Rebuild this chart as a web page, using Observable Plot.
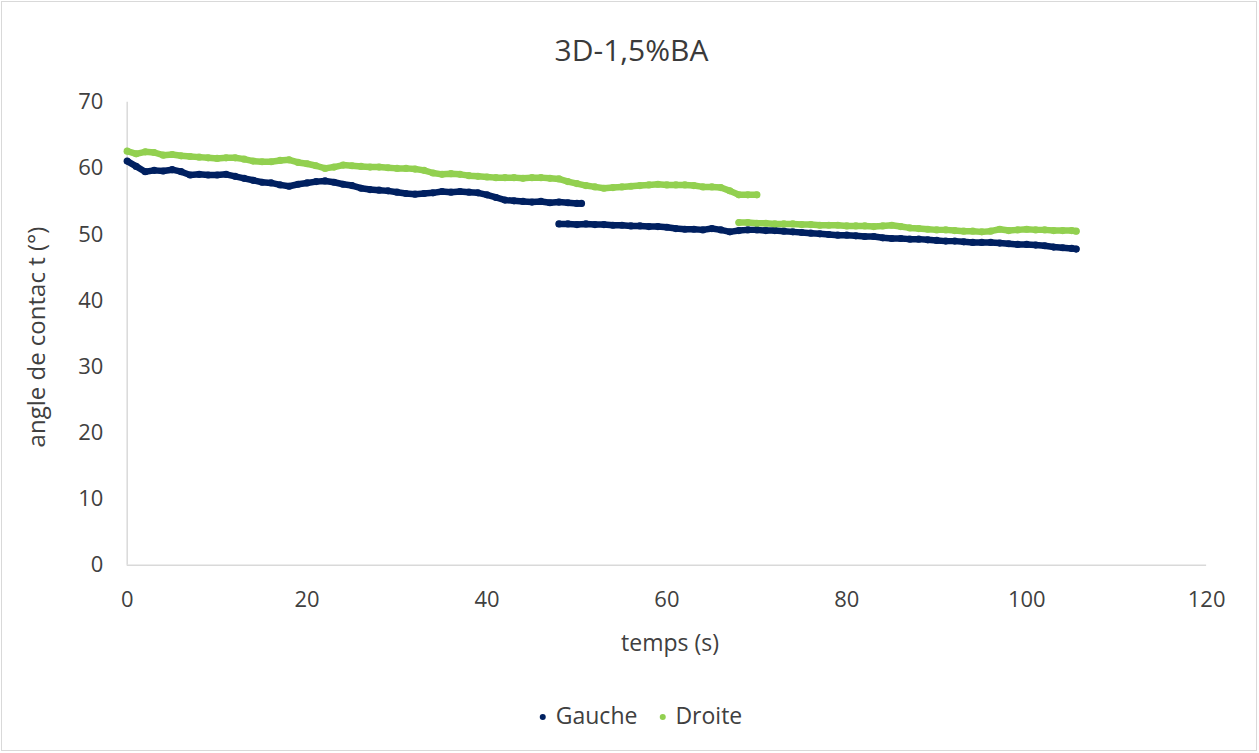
<!DOCTYPE html>
<html>
<head>
<meta charset="utf-8">
<script src="https://cdn.jsdelivr.net/npm/d3@7"></script>
<script src="https://cdn.jsdelivr.net/npm/@observablehq/plot@0.6"></script>
<style>
  html, body { margin: 0; padding: 0; background: #fff; }
  #wrap { position: absolute; left: 1px; top: 1px; width: 1256px; height: 750px; box-sizing: border-box; border: 1px solid #d9d9d9; background: #fff; overflow: hidden; }
  #chart { position: absolute; left: -2px; top: -2px; }
  .txt { position: absolute; font-family: "Open Sans", "Noto Sans", sans-serif; color: #404040; white-space: nowrap; line-height: 1; }
  #title { left: 0; width: 1259px; top: 33px; text-align: center; font-size: 30px; color: #3a3a3a; }
  #xlabel { left: 668px; top: 629px; font-size: 23px; transform: translateX(-50%); }
  #ylabel { left: 34px; top: 335px; font-size: 24px; transform: translate(-50%, -50%) rotate(-90deg); }
  #legend { left: 639px; top: 702px; font-size: 23px; transform: translateX(-50%); }
  #legend span.item { display: inline-block; margin: 0 11px; }
  #legend span.sw { display: inline-block; width: 6px; height: 6px; border-radius: 50%; margin-right: 10px; vertical-align: middle; position: relative; top: -1px; }
</style>
</head>
<body>
<div id="wrap">
  <div id="chart"></div>
  <div id="title" class="txt">3D-1,5%BA</div>
  <div id="xlabel" class="txt">temps (s)</div>
  <div id="ylabel" class="txt">angle de contac t (°)</div>
  <div id="legend" class="txt"></div>
</div>
<script>
const seriesNames = ["Gauche", "Droite"];
const seriesColors = ["#002060", "#92D050"];
const xTicks = [0, 20, 40, 60, 80, 100, 120];
const yTicks = [0, 10, 20, 30, 40, 50, 60, 70];

// Gauche, first measurement
const gaucheT1 = [0,1,2,3,4,5,6,7,8,9,10,11,12,13,14,15,16,17,18,19,20,21,22,23,24,25,26,27,28,29,30,31,32,33,34,35,36,37,38,39,40,41,42,43,44,45,46,47,48,49,50,50.5];
const gaucheV1 = [61.1,60.3,59.5,59.7,59.6,59.8,59.5,59.0,59.1,59.0,59.0,59.1,58.8,58.5,58.2,57.9,57.8,57.5,57.3,57.6,57.8,58.0,58.1,57.9,57.6,57.4,57.0,56.8,56.7,56.6,56.4,56.2,56.1,56.2,56.3,56.5,56.4,56.5,56.4,56.3,56.0,55.6,55.2,55.1,55.0,54.9,55.0,54.8,54.9,54.8,54.7,54.7];
// Gauche, second measurement
const gaucheT2 = [48,49,50,51,52,53,54,55,56,57,58,59,60,61,62,63,64,65,66,67,68,69,70,71,72,73,74,75,76,77,78,79,80,81,82,83,84,85,86,87,88,89,90,91,92,93,94,95,96,97,98,99,100,101,102,103,104,105,105.5];
const gaucheV2 = [51.6,51.6,51.5,51.6,51.5,51.5,51.4,51.4,51.3,51.3,51.2,51.2,51.1,50.9,50.8,50.8,50.7,50.9,50.7,50.4,50.6,50.7,50.7,50.6,50.6,50.5,50.4,50.3,50.2,50.1,50.0,49.9,49.9,49.8,49.7,49.7,49.5,49.4,49.4,49.3,49.3,49.2,49.1,49.0,49.0,48.9,48.8,48.8,48.8,48.7,48.6,48.5,48.5,48.4,48.3,48.1,48.0,47.9,47.8];
// Droite, first measurement
const droiteT1 = [0,1,2,3,4,5,6,7,8,9,10,11,12,13,14,15,16,17,18,19,20,21,22,23,24,25,26,27,28,29,30,31,32,33,34,35,36,37,38,39,40,41,42,43,44,45,46,47,48,49,50,51,52,53,54,55,56,57,58,59,60,61,62,63,64,65,66,67,68,69,70];
const droiteV1 = [62.6,62.2,62.5,62.4,62.0,62.1,61.9,61.8,61.7,61.6,61.5,61.6,61.6,61.4,61.1,61.0,61.0,61.2,61.3,60.9,60.7,60.4,60.0,60.2,60.5,60.4,60.3,60.2,60.2,60.1,60.0,60.0,59.9,59.7,59.3,59.1,59.2,59.1,58.9,58.8,58.7,58.6,58.6,58.6,58.5,58.6,58.6,58.5,58.4,58.0,57.7,57.4,57.2,57.0,57.1,57.2,57.3,57.4,57.5,57.6,57.5,57.5,57.5,57.4,57.2,57.2,57.1,56.6,56.0,56.0,56.0];
// Droite, second measurement
const droiteT2 = [68,69,70,71,72,73,74,75,76,77,78,79,80,81,82,83,84,85,86,87,88,89,90,91,92,93,94,95,96,97,98,99,100,101,102,103,104,105,105.5];
const droiteV2 = [51.8,51.8,51.7,51.7,51.6,51.6,51.6,51.5,51.5,51.4,51.4,51.4,51.3,51.3,51.3,51.2,51.3,51.4,51.2,51.0,50.9,50.8,50.7,50.7,50.6,50.5,50.5,50.4,50.5,50.8,50.6,50.7,50.8,50.7,50.7,50.6,50.6,50.6,50.5];

function rows(ts, vs, series, seg) {
  return ts.map((t, i) => ({t, v: vs[i], series, seg}));
}
const data = [
  ...rows(gaucheT1, gaucheV1, "Gauche", "G1"),
  ...rows(gaucheT2, gaucheV2, "Gauche", "G2"),
  ...rows(droiteT1, droiteV1, "Droite", "D1"),
  ...rows(droiteT2, droiteV2, "Droite", "D2")
];

const chart = Plot.plot({
  width: 1259,
  height: 753,
  marginLeft: 127,
  marginRight: 50,
  marginTop: 102,
  marginBottom: 187,
  style: { fontFamily: "'Open Sans', 'Noto Sans', sans-serif", fontSize: "22px", color: "#404040", background: "transparent" },
  x: { domain: [0, 120], ticks: xTicks },
  y: { domain: [0, 70], ticks: yTicks },
  color: { domain: seriesNames, range: seriesColors },
  marks: [
    Plot.ruleX([0], { stroke: "#d9d9d9", strokeWidth: 1.5 }),
    Plot.ruleY([0], { stroke: "#d9d9d9", strokeWidth: 1.5 }),
    Plot.axisX({ ticks: xTicks, tickSize: 0, tickPadding: 26, label: null, fontSize: 22 }),
    Plot.axisY({ ticks: yTicks, tickSize: 0, tickPadding: 24, label: null, fontSize: 22 }),
    Plot.line(data, { x: "t", y: "v", z: "seg", stroke: "series", strokeWidth: 6.5, strokeLinecap: "round", strokeLinejoin: "round" }),
    Plot.dot(data, { x: "t", y: "v", fill: "series", r: 3.6 })
  ]
});
document.getElementById("chart").appendChild(chart);

const legend = document.getElementById("legend");
seriesNames.forEach((name, i) => {
  const item = document.createElement("span");
  item.className = "item";
  const sw = document.createElement("span");
  sw.className = "sw";
  sw.style.background = seriesColors[i];
  item.appendChild(sw);
  item.appendChild(document.createTextNode(name));
  legend.appendChild(item);
});
</script>
</body>
</html>
